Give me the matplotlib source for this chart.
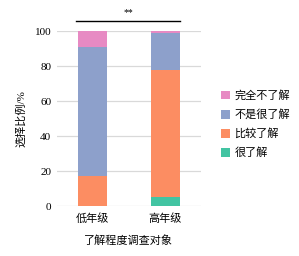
import numpy as np
import matplotlib
matplotlib.use("Agg")
from matplotlib import pyplot as plt
from matplotlib.patches import Patch

plt.rcParams['font.family'] = ['Liberation Serif', 'Noto Sans CJK SC', 'DejaVu Sans']

groups = ["低年级", "高年级"]
levels = ["很了解", "比较了解", "不是很了解", "完全不了解"]
values = {
    "很了解": [0, 5],
    "比较了解": [17, 73],
    "不是很了解": [74, 21],
    "完全不了解": [9, 1],
}
colors = {
    "很了解": "#42c4a2",
    "比较了解": "#fc8d62",
    "不是很了解": "#8da0cb",
    "完全不了解": "#e78ac3",
}

fig = plt.figure(figsize=(2.99, 2.56), dpi=100)
ax = fig.add_axes([0.19, 0.195, 0.482, 0.682])

x = np.arange(len(groups))
bottom = np.zeros(len(groups))
for lv in levels:
    v = np.array(values[lv], dtype=float)
    ax.bar(x, v, width=0.4, bottom=bottom, color=colors[lv], zorder=2)
    bottom += v

ax.set_xlim(-0.486, 1.486)
ax.set_ylim(0, 100)
ax.set_yticks([0, 20, 40, 60, 80, 100])
ax.set_xticks(x)
ax.set_xticklabels(groups, fontsize=8)
ax.tick_params(axis="y", labelsize=8, length=0, pad=4)
ax.tick_params(axis="x", length=0, pad=5)
ax.grid(axis="y", color="#d9d9d9", linewidth=0.9, zorder=0)
for s in ax.spines.values():
    s.set_visible(False)

ax.set_ylabel("选择比例/%", fontsize=8, labelpad=6)
ax.set_xlabel("了解程度调查对象", fontsize=8, labelpad=8)

# significance bar
ax.plot([-0.22, 1.2], [106, 106], color="black", linewidth=1.0, clip_on=False)
ax.text(0.49, 111, "**", ha="center", va="center", fontsize=7)

handles = [Patch(facecolor=colors[lv], label=lv) for lv in levels[::-1]]
fig.legend(handles=handles, loc="upper left", bbox_to_anchor=(0.725, 0.665),
           frameon=False, fontsize=8, handlelength=0.8, handleheight=0.8,
           handletextpad=0.4, labelspacing=0.75, borderaxespad=0)

plt.savefig("out.png", dpi=100)
